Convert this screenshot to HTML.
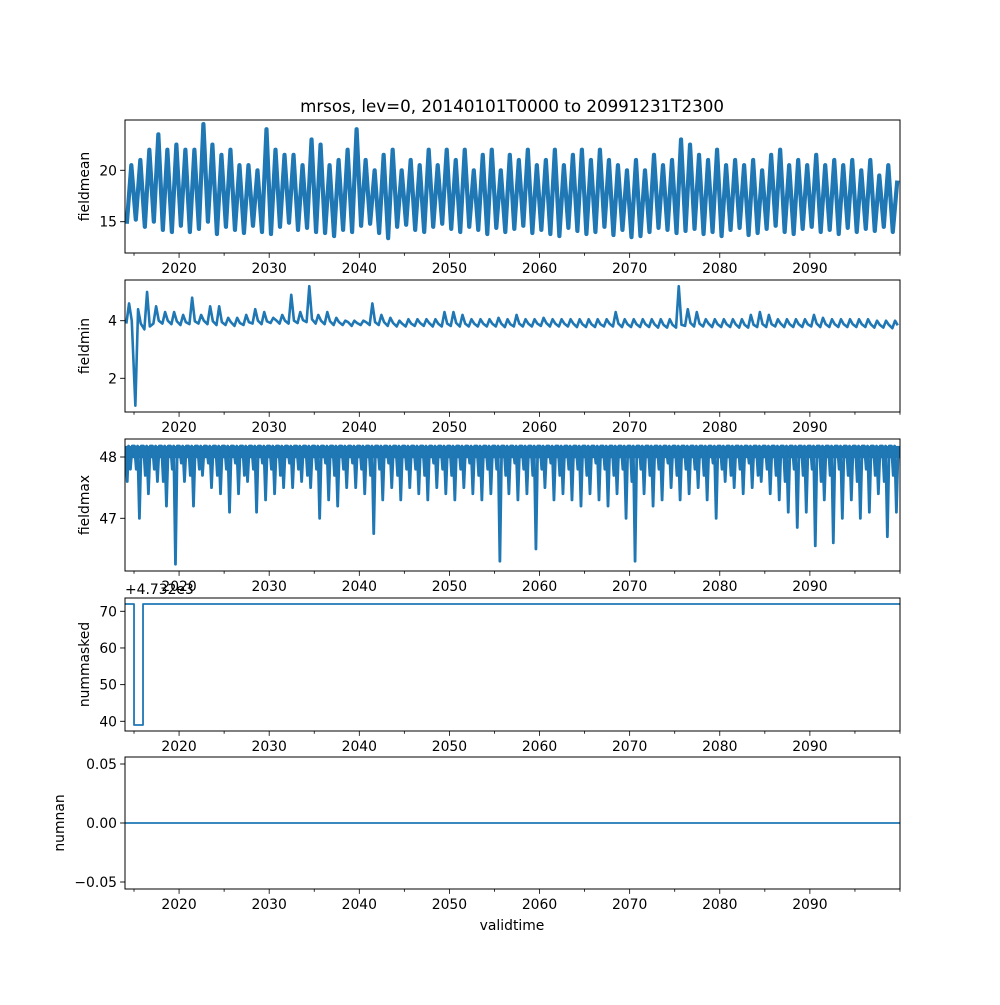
<!DOCTYPE html>
<html><head><meta charset="utf-8">
<style>
html,body{margin:0;padding:0;background:#fff;}
svg text{font-family:"DejaVu Sans","Liberation Sans",sans-serif;fill:#000;}
</style></head>
<body>
<svg id="fig" width="1000" height="1000" viewBox="0 0 1000 1000" xmlns="http://www.w3.org/2000/svg">
<rect width="1000" height="1000" fill="#fff"/>
<text x="512" y="112" font-size="16.7" text-anchor="middle">mrsos, lev=0, 20140101T0000 to 20991231T2300</text>
<text x="512" y="930" font-size="13.9" text-anchor="middle">validtime</text>
</svg>
<script>
// ---- data ----
const years = [];
for (let y = 2014; y <= 2099; y++) years.push(y);
const xTickLabels = ["2020","2030","2040","2050","2060","2070","2080","2090"];
const meanPeaks = [20.5,21,22,23.5,22,22.5,22,22,24.5,22.5,21.5,22,20.5,20.5,20,24,22,21.5,21.5,20.5,23,22.5,20.5,21,22,24,21,20,21.5,22,20,21,20.5,22,20.5,22,21,22,20,21.5,22,20,21.5,21,22,20.5,21,22,20.5,21.5,22,21,22,21,20.5,20,21,20,21.5,20.5,21,23,22.5,21.5,21,22,20.5,21,20.5,21,20,21.5,22,20.5,21,20.5,21.5,20.5,21,20.5,21,20,21,19.5,20.5,19];
const meanTroughs = [14.8,15.2,14.5,15.0,14.2,14.0,14.6,14.0,14.3,15.0,13.8,14.5,14.2,13.9,14.6,14.0,13.8,14.5,14.9,14.2,14.4,14.0,13.9,13.6,14.2,14.0,14.6,14.8,13.9,13.4,14.5,14.7,14.2,14.0,14.5,14.8,14.3,14.0,14.5,14.2,13.8,14.4,14.0,14.3,14.6,13.9,14.2,13.8,13.6,14.4,14.1,13.8,14.0,14.5,13.7,14.2,13.5,13.6,14.0,14.4,14.2,13.9,14.1,14.3,13.8,14.0,13.6,14.2,14.4,13.7,13.9,14.3,14.6,14.0,13.8,14.3,14.5,14.0,14.2,13.8,14.4,14.0,14.3,14.1,14.5,14.0];
const minPeaks = [4.6,4.4,5.0,4.5,4.3,4.3,4.2,4.8,4.2,4.5,4.5,4.1,4.1,4.2,4.4,4.3,4.1,4.2,4.9,4.3,5.2,4.2,4.3,4.1,4.0,4.0,4.0,4.6,4.2,4.1,4.0,4.05,4.05,4.05,4.05,4.3,4.3,4.2,4.05,4.05,4.05,4.1,4.05,4.2,4.05,4.05,4.1,4.05,4.05,4.05,4.05,4.05,4.05,4.05,4.3,4.05,4.05,4.05,4.05,4.05,4.05,5.2,4.4,4.3,4.05,4.05,4.05,4.05,4.05,4.2,4.3,4.2,4.05,4.05,4.05,4.05,4.2,4.1,4.05,4.05,4.05,4.05,4.05,4.0,4.0,4.0];
const minTroughs = [3.9,1.05,3.7,3.9,3.9,3.88,3.85,3.88,3.9,3.88,3.85,3.85,3.82,3.85,3.9,3.88,3.92,3.9,3.9,3.92,3.95,3.9,3.88,3.85,3.85,3.82,3.85,3.85,3.85,3.82,3.8,3.8,3.82,3.82,3.8,3.8,3.82,3.8,3.8,3.8,3.8,3.8,3.78,3.8,3.8,3.8,3.82,3.8,3.8,3.8,3.78,3.78,3.78,3.8,3.8,3.78,3.78,3.78,3.78,3.76,3.76,3.76,3.82,3.8,3.8,3.78,3.78,3.78,3.76,3.76,3.78,3.78,3.8,3.78,3.78,3.78,3.8,3.78,3.78,3.78,3.78,3.78,3.78,3.76,3.76,3.74];
const maxTop = 48.18;
const maxDeep = [47.8,47.0,47.4,47.6,47.2,46.25,47.6,47.2,47.7,47.5,47.4,47.1,47.4,47.6,47.1,47.3,47.4,47.5,47.5,47.6,47.5,47.0,47.3,47.2,47.5,47.5,47.4,46.75,47.3,47.5,47.3,47.5,47.4,47.3,47.5,47.4,47.3,47.5,47.4,47.3,47.4,46.3,47.4,47.3,47.4,46.5,47.5,47.3,47.4,47.3,47.2,47.4,47.3,47.2,47.4,47.0,46.3,47.4,47.2,47.3,47.5,47.3,47.4,47.5,47.3,47.0,47.6,47.5,47.4,47.5,47.6,47.4,47.3,47.1,46.85,47.1,46.55,47.3,46.6,47.0,47.3,47.0,47.1,47.4,46.7,47.1];
const maxShallow = [47.6,47.8,47.7,47.8,47.6,47.8,47.9,47.7,47.8,47.9,47.7,47.8,47.9,47.7,47.8,47.9,47.8,47.7,47.9,47.8,47.7,47.8,47.9,47.7,47.8,47.9,47.8,47.7,47.8,47.9,47.7,47.8,47.8,47.7,47.9,47.8,47.7,47.8,47.9,47.7,47.8,47.8,47.7,47.9,47.8,47.7,47.8,47.9,47.7,47.8,47.8,47.7,47.9,47.8,47.7,47.8,47.6,47.8,47.7,47.8,47.9,47.7,47.8,47.8,47.7,47.9,47.8,47.7,47.8,47.9,47.7,47.8,47.7,47.6,47.8,47.7,47.8,47.6,47.7,47.8,47.7,47.6,47.8,47.7,47.6,47.7];
const maskTimes = [2014.0, 2015.0, 2015.0, 2016.0, 2016.0, 2100.0];
const maskValues = [72, 72, 39, 39, 72, 72];
const nanTimes = [2014.0, 2100.0];
const nanValues = [0, 0];

// ---- layout ----
const NS = "http://www.w3.org/2000/svg";
const svg = document.getElementById("fig");
const X0 = 125, X1 = 900, T0 = 2014.0, T1 = 2100.0;
const xs = t => X0 + (t - T0) / (T1 - T0) * (X1 - X0);
const panels = [
  {name:"fieldmean", top:120, bot:253, v0:20, p0:170.3, v1:15, p1:221.7, ticks:[15,20], labels:["15","20"]},
  {name:"fieldmin", top:280, bot:412, v0:4, p0:320.7, v1:2, p1:378.3, ticks:[2,4], labels:["2","4"]},
  {name:"fieldmax", top:439, bot:571, v0:48, p0:457, v1:47, p1:518.3, ticks:[47,48], labels:["47","48"]},
  {name:"nummasked", top:598, bot:731, v0:70, p0:611.3, v1:40, p1:721.3, ticks:[40,50,60,70], labels:["40","50","60","70"]},
  {name:"numnan", top:757, bot:889, v0:0.05, p0:764, v1:-0.05, p1:882, ticks:[-0.05,0,0.05], labels:["\u22120.05","0.00","0.05"]}
];
function mk(tag, attrs, parent){ const e=document.createElementNS(NS,tag); for(const k in attrs) e.setAttribute(k,attrs[k]); (parent||svg).appendChild(e); return e; }

function drawLine(p, ts, vs, w){
  const ys = v => p.p0 + (v - p.v0) * (p.p1 - p.p0) / (p.v1 - p.v0);
  let d = "";
  for (let i=0;i<ts.length;i++) d += (i?"L":"M") + xs(ts[i]).toFixed(2) + "," + ys(vs[i]).toFixed(2);
  const path = mk("path",{d:d, fill:"none", stroke:"#1f77b4", "stroke-width":w, "stroke-linejoin":"round", "clip-path":"url(#clip-"+p.name+")"});
  
  
}

panels.forEach((p, idx) => {
  const g = mk("g",{});
  
  
  const cp = mk("clipPath",{id:"clip-"+p.name}, g);
  mk("rect",{x:X0,y:p.top,width:X1-X0,height:p.bot-p.top}, cp);
  const ys = v => p.p0 + (v - p.v0) * (p.p1 - p.p0) / (p.v1 - p.v0);
  if (idx===0){ const ts=[],vs=[]; years.forEach((y,i)=>{ts.push(y+0.2);vs.push(meanTroughs[i]);ts.push(y+0.7);vs.push(meanPeaks[i]);}); drawLine(p,ts,vs,4.2); }
  if (idx===1){ const ts=[],vs=[]; years.forEach((y,i)=>{ts.push(y+0.15);vs.push(minTroughs[i]);ts.push(y+0.45);vs.push(minPeaks[i]);ts.push(y+0.75);vs.push((minTroughs[i]>3?minTroughs[i]:3.8)+0.1);}); drawLine(p,ts,vs,2.6); }
  if (idx===2){ const ts=[],vs=[]; years.forEach((y,i)=>{ts.push(y+0.05);vs.push(maxTop);ts.push(y+0.25);vs.push(maxShallow[i]);ts.push(y+0.4);vs.push(maxTop);ts.push(y+0.6);vs.push(maxDeep[i]);ts.push(y+0.8);vs.push(maxTop);}); drawLine(p,ts,vs,2.8);
    mk("rect",{x:X0,y:ys(48.18),width:X1-X0,height:ys(47.98)-ys(48.18),fill:"#1f77b4"}, g); }
  if (idx===3) drawLine(p, maskTimes, maskValues, 1.8);
  if (idx===4) drawLine(p, nanTimes, nanValues, 1.8);
  const fr = mk("rect",{x:X0,y:p.top,width:X1-X0,height:p.bot-p.top,fill:"none",stroke:"#000","stroke-width":1});
  
  
  p.ticks.forEach((v,i)=>{
    const y = ys(v);
    mk("line",{x1:X0-4.9,x2:X0,y1:y,y2:y,stroke:"#000","stroke-width":0.9});
    const t = mk("text",{x:X0-8,y:y+5,"font-size":"13.9","text-anchor":"end"});
    
    
    t.textContent = p.labels[i];
  });
  for (let yr=2015; yr<=2100; yr+=5){
    const x = xs(yr), major = yr%10===0 && yr>=2020 && yr<=2090;
    mk("line",{x1:x,x2:x,y1:p.bot,y2:p.bot+(major?4.9:2.8),stroke:"#000","stroke-width":0.8});
  }
  xTickLabels.forEach(lab=>{
    const t = mk("text",{x:xs(+lab),y:p.bot+20,"font-size":"13.9","text-anchor":"middle"});
    
    
    t.textContent = lab;
  });
  const yl = mk("text",{x:0,y:0,"font-size":"13.9","text-anchor":"middle",transform:"translate("+(idx===4?64:89)+","+((p.top+p.bot)/2)+") rotate(-90)"});
  
  
  yl.textContent = p.name;
});
const off = mk("text",{x:125,y:594,"font-size":"13.9"});


off.textContent = "+4.732e3";
</script>
</body></html>
